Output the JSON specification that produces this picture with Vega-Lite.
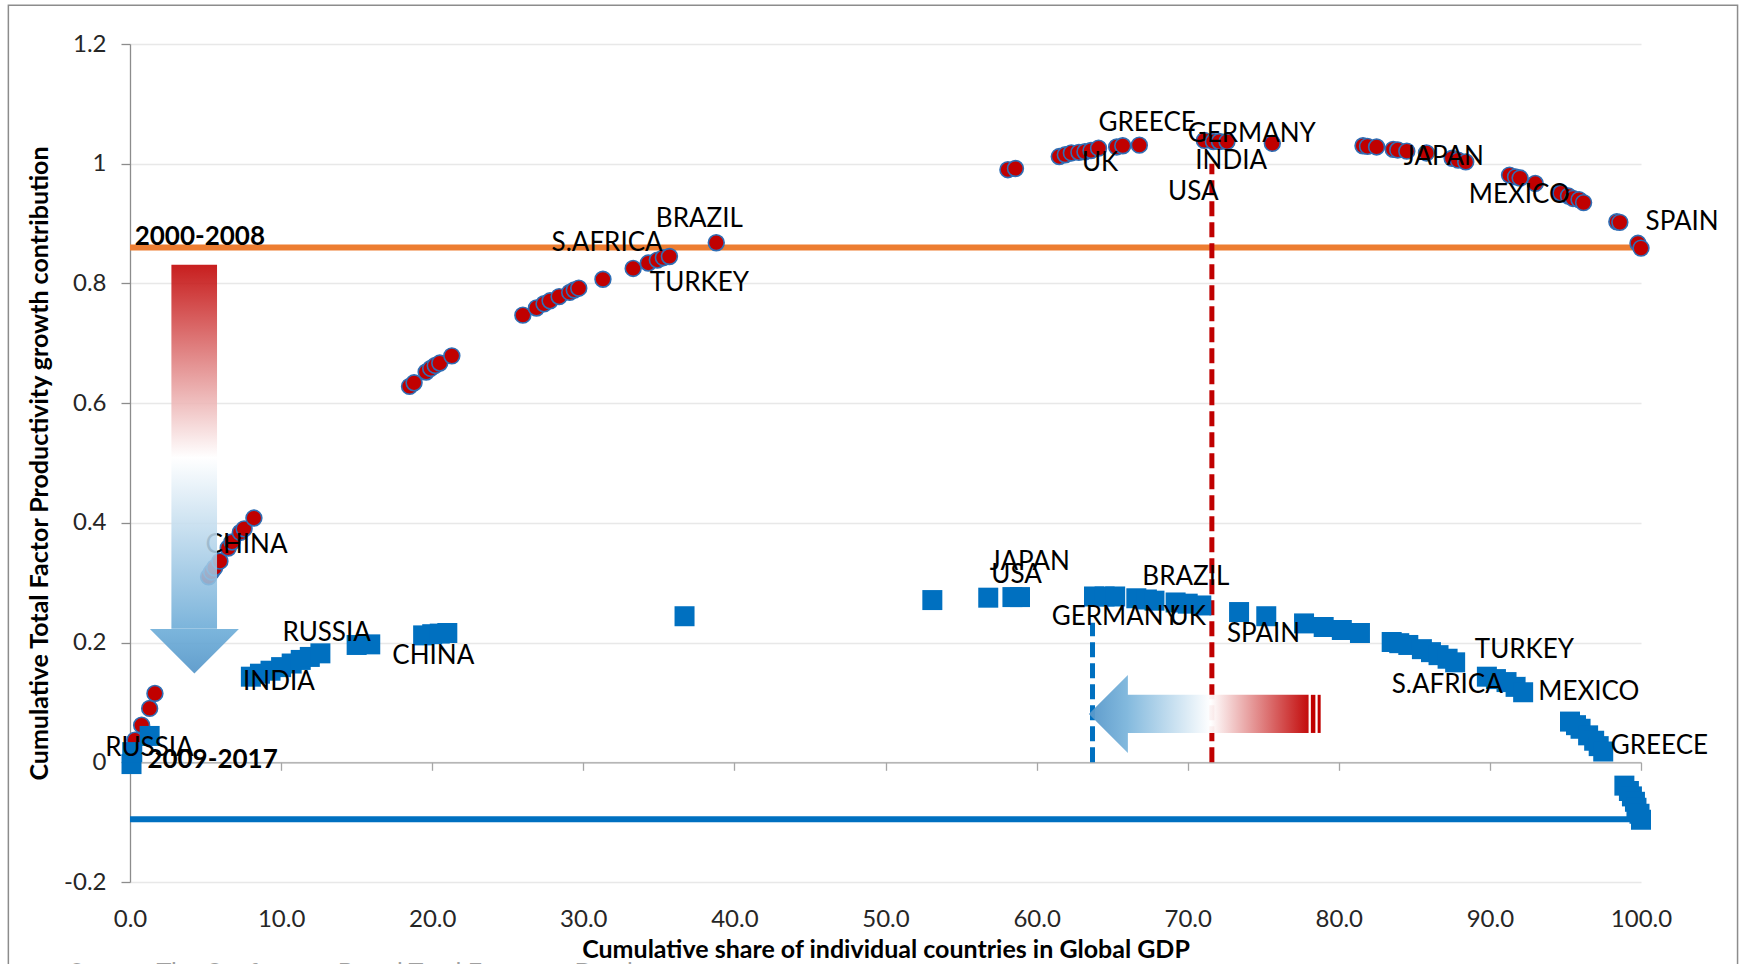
{
  "$schema": "https://vega.github.io/schema/vega-lite/v6.json",
  "width": 1511,
  "height": 838,
  "autosize": {"type": "none"},
  "padding": {"left": 130, "top": 44, "right": 99, "bottom": 82},
  "background": "white",
  "config": {"view": {"stroke": null}, "font": "Lato"},
  "datasets": {
    "tfp0008": [
      {"share": 0.1, "tfp": 0.015}, {"share": 0.33, "tfp": 0.037}, {"share": 0.77, "tfp": 0.062}, {"share": 1.3, "tfp": 0.09}, {"share": 1.65, "tfp": 0.115},
      {"share": 5.2, "tfp": 0.31}, {"share": 5.4, "tfp": 0.318}, {"share": 5.6, "tfp": 0.325}, {"share": 5.95, "tfp": 0.336}, {"share": 6.5, "tfp": 0.358}, {"share": 6.75, "tfp": 0.368}, {"share": 7.3, "tfp": 0.384}, {"share": 7.55, "tfp": 0.39}, {"share": 8.2, "tfp": 0.408},
      {"share": 18.5, "tfp": 0.628}, {"share": 18.8, "tfp": 0.634}, {"share": 19.6, "tfp": 0.652}, {"share": 19.9, "tfp": 0.658}, {"share": 20.2, "tfp": 0.663}, {"share": 20.5, "tfp": 0.667}, {"share": 21.3, "tfp": 0.679},
      {"share": 26.0, "tfp": 0.747}, {"share": 26.9, "tfp": 0.759}, {"share": 27.4, "tfp": 0.766}, {"share": 27.8, "tfp": 0.771}, {"share": 28.4, "tfp": 0.778}, {"share": 29.1, "tfp": 0.785}, {"share": 29.4, "tfp": 0.789}, {"share": 29.7, "tfp": 0.792},
      {"share": 31.3, "tfp": 0.807}, {"share": 33.3, "tfp": 0.825}, {"share": 34.3, "tfp": 0.834}, {"share": 34.9, "tfp": 0.839}, {"share": 35.3, "tfp": 0.843}, {"share": 35.7, "tfp": 0.845}, {"share": 38.8, "tfp": 0.868},
      {"share": 58.1, "tfp": 0.99}, {"share": 58.6, "tfp": 0.992}, {"share": 61.5, "tfp": 1.012}, {"share": 61.9, "tfp": 1.015}, {"share": 62.3, "tfp": 1.018}, {"share": 62.8, "tfp": 1.019}, {"share": 63.2, "tfp": 1.02}, {"share": 63.6, "tfp": 1.022}, {"share": 64.1, "tfp": 1.026}, {"share": 65.3, "tfp": 1.028}, {"share": 65.7, "tfp": 1.03}, {"share": 66.8, "tfp": 1.031},
      {"share": 71.1, "tfp": 1.039}, {"share": 71.7, "tfp": 1.037}, {"share": 72.1, "tfp": 1.037}, {"share": 72.6, "tfp": 1.037}, {"share": 75.6, "tfp": 1.034},
      {"share": 81.6, "tfp": 1.03}, {"share": 81.9, "tfp": 1.029}, {"share": 82.5, "tfp": 1.028}, {"share": 83.6, "tfp": 1.024}, {"share": 83.9, "tfp": 1.023}, {"share": 84.5, "tfp": 1.021}, {"share": 85.8, "tfp": 1.018}, {"share": 87.5, "tfp": 1.009}, {"share": 87.9, "tfp": 1.006}, {"share": 88.4, "tfp": 1.003},
      {"share": 91.3, "tfp": 0.981}, {"share": 91.7, "tfp": 0.978}, {"share": 92.0, "tfp": 0.976}, {"share": 93.0, "tfp": 0.967}, {"share": 94.7, "tfp": 0.951}, {"share": 95.2, "tfp": 0.946}, {"share": 95.5, "tfp": 0.942}, {"share": 95.9, "tfp": 0.94}, {"share": 96.2, "tfp": 0.935}, {"share": 98.4, "tfp": 0.903}, {"share": 98.6, "tfp": 0.902}, {"share": 99.8, "tfp": 0.867}, {"share": 100, "tfp": 0.859}
    ],
    "tfp0917": [
      {"share": 0.1, "tfp": -0.003}, {"share": 0.15, "tfp": 0.017}, {"share": 1.3, "tfp": 0.044},
      {"share": 8.0, "tfp": 0.143}, {"share": 8.6, "tfp": 0.148}, {"share": 9.3, "tfp": 0.153}, {"share": 10.0, "tfp": 0.159}, {"share": 10.7, "tfp": 0.165}, {"share": 11.3, "tfp": 0.171}, {"share": 11.9, "tfp": 0.176}, {"share": 12.6, "tfp": 0.182},
      {"share": 15.0, "tfp": 0.196}, {"share": 15.9, "tfp": 0.197},
      {"share": 19.4, "tfp": 0.212}, {"share": 20.0, "tfp": 0.214}, {"share": 20.5, "tfp": 0.215}, {"share": 21.0, "tfp": 0.216},
      {"share": 36.7, "tfp": 0.244}, {"share": 53.1, "tfp": 0.271}, {"share": 56.8, "tfp": 0.275}, {"share": 58.4, "tfp": 0.276}, {"share": 58.9, "tfp": 0.276},
      {"share": 63.8, "tfp": 0.277}, {"share": 64.5, "tfp": 0.277}, {"share": 65.2, "tfp": 0.277}, {"share": 66.6, "tfp": 0.274}, {"share": 67.3, "tfp": 0.272}, {"share": 67.8, "tfp": 0.27}, {"share": 69.2, "tfp": 0.267}, {"share": 70.0, "tfp": 0.265}, {"share": 70.9, "tfp": 0.262},
      {"share": 73.4, "tfp": 0.251}, {"share": 75.2, "tfp": 0.244}, {"share": 77.7, "tfp": 0.232}, {"share": 79.0, "tfp": 0.226}, {"share": 80.2, "tfp": 0.221}, {"share": 81.4, "tfp": 0.216},
      {"share": 83.5, "tfp": 0.201}, {"share": 84.0, "tfp": 0.199}, {"share": 84.6, "tfp": 0.196}, {"share": 85.5, "tfp": 0.189}, {"share": 86.1, "tfp": 0.184}, {"share": 86.6, "tfp": 0.179}, {"share": 87.2, "tfp": 0.173}, {"share": 87.7, "tfp": 0.167},
      {"share": 89.8, "tfp": 0.143}, {"share": 90.4, "tfp": 0.139}, {"share": 91.1, "tfp": 0.134}, {"share": 91.7, "tfp": 0.126}, {"share": 92.2, "tfp": 0.117},
      {"share": 95.3, "tfp": 0.068}, {"share": 95.7, "tfp": 0.062}, {"share": 96.0, "tfp": 0.056}, {"share": 96.5, "tfp": 0.045}, {"share": 96.9, "tfp": 0.036}, {"share": 97.2, "tfp": 0.027}, {"share": 97.5, "tfp": 0.018},
      {"share": 98.9, "tfp": -0.039}, {"share": 99.2, "tfp": -0.048}, {"share": 99.4, "tfp": -0.057}, {"share": 99.6, "tfp": -0.066}, {"share": 99.7, "tfp": -0.076}, {"share": 99.9, "tfp": -0.086}, {"share": 100, "tfp": -0.096}
    ],
    "countryLabels": [
      {"country": "RUSSIA", "share": -1.64, "tfp": 0.0235},
      {"country": "CHINA", "share": 5.0, "tfp": 0.363},
      {"country": "S.AFRICA", "share": 27.9, "tfp": 0.867},
      {"country": "BRAZIL", "share": 34.8, "tfp": 0.908},
      {"country": "TURKEY", "share": 34.4, "tfp": 0.8},
      {"country": "UK", "share": 63.0, "tfp": 1.002},
      {"country": "GREECE", "share": 64.1, "tfp": 1.068},
      {"country": "GERMANY", "share": 70.0, "tfp": 1.05},
      {"country": "INDIA", "share": 70.5, "tfp": 1.004},
      {"country": "USA", "share": 68.7, "tfp": 0.953},
      {"country": "JAPAN", "share": 84.3, "tfp": 1.011},
      {"country": "MEXICO", "share": 88.6, "tfp": 0.948},
      {"country": "SPAIN", "share": 100.3, "tfp": 0.903},
      {"country": "INDIA", "share": 7.48, "tfp": 0.134},
      {"country": "RUSSIA", "share": 10.09, "tfp": 0.2157},
      {"country": "CHINA", "share": 17.36, "tfp": 0.178},
      {"country": "JAPAN", "share": 56.9, "tfp": 0.335},
      {"country": "USA", "share": 57.0, "tfp": 0.313},
      {"country": "GERMANY", "share": 61.0, "tfp": 0.242},
      {"country": "UK", "share": 68.8, "tfp": 0.243},
      {"country": "BRAZIL", "share": 67.0, "tfp": 0.31},
      {"country": "SPAIN", "share": 72.6, "tfp": 0.214},
      {"country": "TURKEY", "share": 89.0, "tfp": 0.188},
      {"country": "S.AFRICA", "share": 83.5, "tfp": 0.129},
      {"country": "MEXICO", "share": 93.2, "tfp": 0.118},
      {"country": "GREECE", "share": 98.0, "tfp": 0.027}
    ],
    "periodLabels": [
      {"period": "2000-2008", "share": 0.31, "tfp": 0.877},
      {"period": "2009-2017", "share": 1.15, "tfp": 0.004}
    ]
  },
  "resolve": {"axis": {"x": "independent"}},
  "layer": [
    {
      "data": {"values": [{"share": 0, "share2": 100, "tfp": 0.86}]},
      "mark": {"type": "rule", "color": "#ed7d31", "strokeWidth": 6},
      "encoding": {
        "x": {"field": "share", "type": "quantitative", "scale": {"domain": [0, 100], "nice": false, "zero": false},
          "axis": {"orient": "bottom", "values": [0, 10, 20, 30, 40, 50, 60, 70, 80, 90, 100], "format": ".1f", "labelFont": "Lato", "labelFontSize": 24, "labelColor": "#262626", "labelPadding": 25, "labelFlush": false, "labelOverlap": false, "tickSize": 0, "ticks": false, "domain": false, "grid": false,
            "title": "Cumulative share of individual countries in Global GDP", "titleFont": "Lato", "titleFontSize": 25, "titleFontWeight": "bold", "titleColor": "#000000", "titleX": 755.5, "titleY": 67, "titleAlign": "center", "titleBaseline": "middle"}},
        "x2": {"field": "share2"},
        "y": {"field": "tfp", "type": "quantitative", "scale": {"domain": [-0.2, 1.2], "nice": false, "zero": false},
          "axis": {"orient": "left", "values": [-0.2, 0, 0.2, 0.4, 0.6, 0.8, 1, 1.2], "labelExpr": "'' + datum.value", "labelFont": "Lato", "labelFontSize": 24, "labelColor": "#262626", "labelPadding": 15, "labelFlush": false, "tickSize": 9, "tickColor": "#8c8c8c", "tickWidth": 1.3, "domainColor": "#8c8c8c", "domainWidth": 1.3, "grid": true, "gridColor": "#e8e8e8", "gridWidth": 1.3,
            "title": "Cumulative Total Factor Productivity growth contribution", "titleFont": "Lato", "titleFontSize": 25, "titleFontWeight": "bold", "titleColor": "#000000", "titleX": -91, "titleY": 419, "titleAngle": -90, "titleAlign": "center", "titleBaseline": "middle"}}
      }
    },
    {
      "data": {"values": [{"share": 0, "share2": 100, "tfp": -0.095}]},
      "mark": {"type": "rule", "color": "#0070c0", "strokeWidth": 6},
      "encoding": {
        "x": {"field": "share", "type": "quantitative", "scale": {"domain": [0, 100]},
          "axis": {"orient": "bottom", "offset": -119.7, "values": [0, 10, 20, 30, 40, 50, 60, 70, 80, 90, 100], "labels": false, "ticks": true, "tickSize": 8, "tickColor": "#a6a6a6", "tickWidth": 1.3, "domain": true, "domainColor": "#a6a6a6", "domainWidth": 1.3, "grid": false, "title": null}},
        "x2": {"field": "share2"},
        "y": {"field": "tfp", "type": "quantitative", "scale": {"domain": [-0.2, 1.2]}}
      }
    },
    {
      "data": {"values": [{"share": 71.6, "tfp": 0, "tfp2": 1.0}]},
      "mark": {"type": "rule", "color": "#c00000", "strokeWidth": 5, "strokeDash": [15, 6]},
      "encoding": {
        "x": {"field": "share", "type": "quantitative", "axis": null},
        "y": {"field": "tfp", "type": "quantitative"},
        "y2": {"field": "tfp2"}
      }
    },
    {
      "data": {"values": [{"share": 63.7, "tfp": 0, "tfp2": 0.233}]},
      "mark": {"type": "rule", "color": "#0070c0", "strokeWidth": 5, "strokeDash": [15, 6]},
      "encoding": {
        "x": {"field": "share", "type": "quantitative", "axis": null},
        "y": {"field": "tfp", "type": "quantitative"},
        "y2": {"field": "tfp2"}
      }
    },
    {
      "data": {"name": "tfp0008"},
      "mark": {"type": "point", "shape": "circle", "filled": true, "fill": "#c00000", "stroke": "#2f6eb5", "strokeWidth": 1.6, "size": 250, "opacity": 1},
      "encoding": {
        "x": {"field": "share", "type": "quantitative", "axis": null},
        "y": {"field": "tfp", "type": "quantitative"}
      }
    },
    {
      "data": {"name": "tfp0917"},
      "mark": {"type": "point", "shape": "square", "filled": true, "fill": "#0070c0", "strokeWidth": 0, "size": 400, "opacity": 1},
      "encoding": {
        "x": {"field": "share", "type": "quantitative", "axis": null},
        "y": {"field": "tfp", "type": "quantitative"}
      }
    },
    {
      "data": {"name": "countryLabels"},
      "mark": {"type": "text", "font": "Lato", "fontSize": 26, "color": "#000000", "align": "left", "baseline": "middle"},
      "encoding": {
        "x": {"field": "share", "type": "quantitative", "axis": null},
        "y": {"field": "tfp", "type": "quantitative"},
        "text": {"field": "country"}
      }
    },
    {
      "data": {"name": "periodLabels"},
      "mark": {"type": "text", "font": "Lato", "fontSize": 26, "fontWeight": "bold", "color": "#000000", "align": "left", "baseline": "middle"},
      "encoding": {
        "x": {"field": "share", "type": "quantitative", "axis": null},
        "y": {"field": "tfp", "type": "quantitative"},
        "text": {"field": "period"}
      }
    },
    {
      "data": {"values": [{"x0": 2.74, "x1": 5.76, "y0": 0.223, "y1": 0.831}]},
      "mark": {"type": "rect", "opacity": 0.88, "fill": {"gradient": "linear", "x1": 0, "y1": 0, "x2": 0, "y2": 1, "stops": [{"offset": 0, "color": "#c00000"}, {"offset": 0.53, "color": "#ffffff"}, {"offset": 1, "color": "#6aaad6"}]}},
      "encoding": {
        "x": {"field": "x0", "type": "quantitative", "axis": null},
        "x2": {"field": "x1"},
        "y": {"field": "y0", "type": "quantitative"},
        "y2": {"field": "y1"}
      }
    },
    {
      "data": {"values": [{"share": 4.26, "tfp": 0.1855}]},
      "mark": {"type": "point", "shape": "M-1,-0.5L1,-0.5L0,0.5Z", "size": 7921, "filled": true, "strokeWidth": 0, "opacity": 0.92, "fill": {"gradient": "linear", "x1": 0, "y1": 0, "x2": 0, "y2": 1, "stops": [{"offset": 0, "color": "#70afd9"}, {"offset": 1, "color": "#5596c9"}]}},
      "encoding": {
        "x": {"field": "share", "type": "quantitative", "axis": null},
        "y": {"field": "tfp", "type": "quantitative"}
      }
    },
    {
      "data": {"values": [{"x0": 66.0, "x1": 78.0, "y0": 0.049, "y1": 0.1127}]},
      "mark": {"type": "rect", "opacity": 0.95, "fill": {"gradient": "linear", "x1": 0, "y1": 0, "x2": 1, "y2": 0, "stops": [{"offset": 0, "color": "#7db6dc"}, {"offset": 0.46, "color": "#ffffff"}, {"offset": 1, "color": "#c00000"}]}},
      "encoding": {
        "x": {"field": "x0", "type": "quantitative", "axis": null},
        "x2": {"field": "x1"},
        "y": {"field": "y0", "type": "quantitative"},
        "y2": {"field": "y1"}
      }
    },
    {
      "data": {"values": [{"x0": 78.15, "x1": 78.45, "y0": 0.049, "y1": 0.1127}, {"x0": 78.6, "x1": 78.8, "y0": 0.049, "y1": 0.1127}]},
      "mark": {"type": "rect", "color": "#c00000"},
      "encoding": {
        "x": {"field": "x0", "type": "quantitative", "axis": null},
        "x2": {"field": "x1"},
        "y": {"field": "y0", "type": "quantitative"},
        "y2": {"field": "y1"}
      }
    },
    {
      "data": {"values": [{"share": 64.75, "tfp": 0.0805}]},
      "mark": {"type": "point", "shape": "M0.5,-1L0.5,1L-0.5,0Z", "size": 6084, "filled": true, "strokeWidth": 0, "opacity": 0.95, "fill": {"gradient": "linear", "x1": 0, "y1": 0, "x2": 1, "y2": 0, "stops": [{"offset": 0, "color": "#5596c9"}, {"offset": 1, "color": "#7db6dc"}]}},
      "encoding": {
        "x": {"field": "share", "type": "quantitative", "axis": null},
        "y": {"field": "tfp", "type": "quantitative"}
      }
    },
    {
      "data": {"values": [{"text": "Source: The Conference Board Total Economy Database", "share": -4.0, "tfp": -0.332}]},
      "mark": {"type": "text", "font": "Lato", "fontSize": 25, "color": "#a0a0a0", "align": "left", "baseline": "top"},
      "encoding": {
        "x": {"field": "share", "type": "quantitative", "axis": null},
        "y": {"field": "tfp", "type": "quantitative"},
        "text": {"field": "text"}
      }
    },
    {
      "data": {"values": [{"x0": -8.05, "x1": 106.39, "y0": -0.5, "y1": 1.2647}]},
      "mark": {"type": "rect", "fill": "transparent", "stroke": "#8c8c8c", "strokeWidth": 1.5},
      "encoding": {
        "x": {"field": "x0", "type": "quantitative", "axis": null},
        "x2": {"field": "x1"},
        "y": {"field": "y0", "type": "quantitative"},
        "y2": {"field": "y1"}
      }
    }
  ]
}
